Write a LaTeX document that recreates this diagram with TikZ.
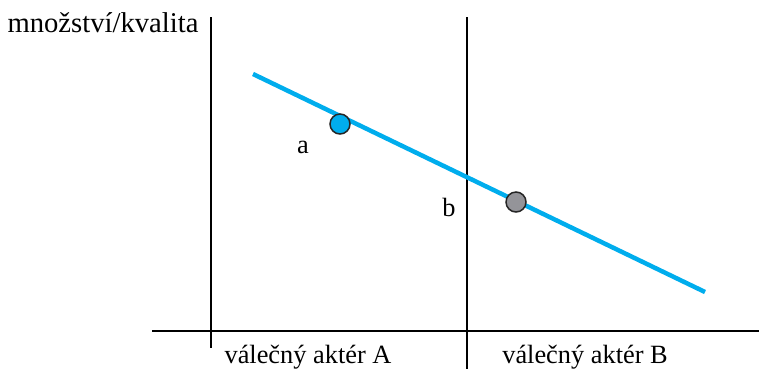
\documentclass[tikz,border=0pt]{standalone}
\usepackage{fontspec}
\setmainfont{Liberation Serif}
\usepackage{xcolor}
\definecolor{lineblue}{rgb}{0.0,0.68,0.93}
\definecolor{dotgray}{rgb}{0.58,0.58,0.60}
\usepackage{tikz}

\begin{document}
\begin{tikzpicture}[x=0.02cm,y=-0.02cm]
\tikzset{axis/.style={line width=0.035cm},
  lbl/.style={font=\fontsize{16.3}{18}\selectfont,inner sep=0pt},
  actor/.style={font=\fontsize{15}{17}\selectfont,inner sep=0pt},
  dot/.style={circle,draw=black!85,line width=0.03cm,minimum size=0.4cm,inner sep=0pt}}
\useasboundingbox (0,0) rectangle (759,369);

% Axes
\draw[axis] (211,17) -- (211,348);
\draw[axis] (467,17) -- (467,369);
\draw[axis] (152,331) -- (759,331);

% Trend line
\coordinate (start) at (253,74);
\coordinate (end) at (705,292);
\draw[line width=0.09cm,color=lineblue] (start) -- (end);

% Points
\node[dot,fill=lineblue] (pa) at (340,124) {};
\node[dot,fill=dotgray] (pb) at (516,202) {};
\node[actor] (la) at (303,147) {a};
\node[actor] (lb) at (449,207) {b};

% Labels
\node[lbl] (ylabel) at (103,23) {množství/kvalita};
\node[actor] (actA) at (308,357) {válečný aktér A};
\node[actor] (actB) at (585,357) {válečný aktér B};

\end{tikzpicture}
\end{document}
